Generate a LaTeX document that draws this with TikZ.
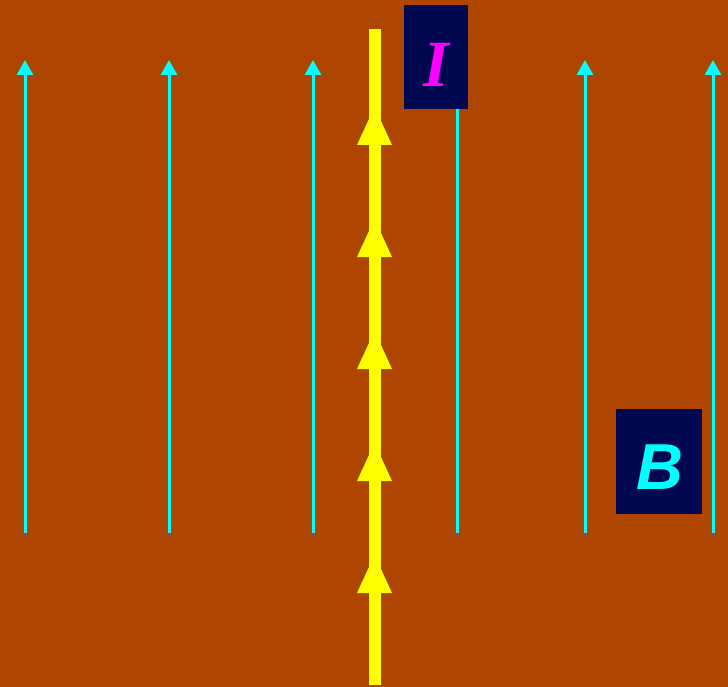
\documentclass[tikz,border=0pt]{standalone}
\usepackage{fontspec}
\setmainfont{Liberation Serif}
\newfontfamily\arialfont{Liberation Sans}
\usetikzlibrary{arrows.meta}
\definecolor{bgbrown}{RGB}{174,69,0}
\definecolor{navybox}{RGB}{0,8,80}
\definecolor{wireyellow}{RGB}{255,255,0}
\definecolor{fieldcyan}{RGB}{0,255,255}
\definecolor{curmagenta}{RGB}{255,0,255}
\tikzset{
  fieldline/.style={draw=fieldcyan, line width=3pt, -{Triangle[width=16pt,length=15pt]}},
  wireline/.style={draw=wireyellow, line width=12pt},
  wirehead/.style={fill=wireyellow},
  labelbox/.style={fill=navybox, inner sep=0pt},
}
\begin{document}
\begin{tikzpicture}[x=1pt,y=-1pt]
\fill[bgbrown] (0,0) rectangle (728,687);
\useasboundingbox (0,0) rectangle (728,687);
% field lines
\foreach \xx/\nm in {25/a,169/b,313/c,457/d,585/e,713/f}{
  \coordinate (fb\nm) at (\xx,533);
  \coordinate (ft\nm) at (\xx,60);
  \draw[fieldline] (fb\nm) -- (ft\nm);
}
% wire
\coordinate (wb) at (374.5,685);
\coordinate (wt) at (374.5,29);
\draw[wireline] (wb) -- (wt);
\foreach \yy in {145,257,369,481,593}{
  \fill[wirehead] (357,\yy) -- (392,\yy) -- (374.5,\yy-38) -- cycle;
}
% labels
\node[labelbox, minimum width=64pt, minimum height=104pt] (ibox) at (436,57) {};
\node[text=curmagenta, font=\fontsize{66}{66}\selectfont\bfseries\itshape] (ilab) at (436,65) {I};
\node[labelbox, minimum width=86pt, minimum height=105pt] (bbox) at (659,461.5) {};
\node[text=fieldcyan, font=\arialfont\fontsize{65}{65}\selectfont\bfseries\itshape] (blab) at (660,467) {B};
\end{tikzpicture}
\end{document}
